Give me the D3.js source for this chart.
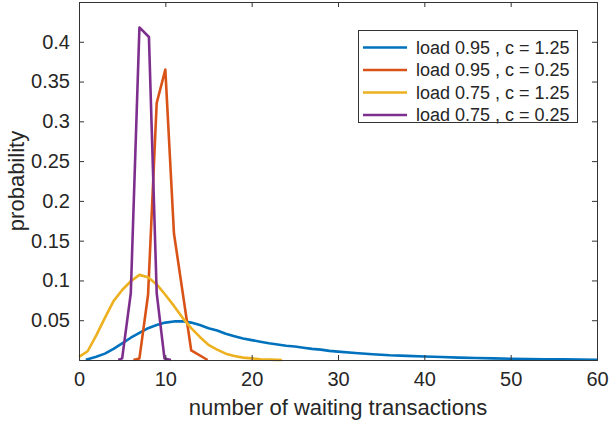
<!DOCTYPE html>
<html>
<head>
<meta charset="utf-8">
<script src="https://cdn.jsdelivr.net/npm/d3@7"></script>
<style>
  body { margin: 0; background: #fff; }
  svg { display: block; font-family: "Liberation Sans", Arial, sans-serif; }
</style>
</head>
<body>
<svg id="chart" width="609" height="427"></svg>
<script>
// series (x = number of waiting transactions, y = probability)
const blueX = [0.8, 1, 2, 3, 4, 5, 6, 7, 8, 9, 10, 11, 12, 13, 14, 15, 16, 17, 18, 19, 20,
  21, 22, 23, 24, 25, 26, 27, 28, 29, 30, 32, 34, 36, 38, 40, 42, 44, 46, 48, 50, 52, 54, 56, 58, 60];
const blueY = [0, 0.001, 0.004, 0.008, 0.014, 0.021, 0.028, 0.034, 0.040, 0.044, 0.047, 0.0485, 0.0488,
  0.047, 0.044, 0.040, 0.037, 0.033, 0.030, 0.027, 0.025, 0.023, 0.021, 0.0195, 0.018, 0.017, 0.0155,
  0.014, 0.013, 0.0115, 0.0105, 0.0088, 0.0073, 0.006, 0.0052, 0.0044, 0.0037, 0.003, 0.0025, 0.002,
  0.0016, 0.0013, 0.001, 0.0008, 0.0005, 0.0003];

const orangeX = [6.3, 7, 8, 9, 10, 11, 13, 14.9];
const orangeY = [0, 0.002, 0.082, 0.323, 0.365, 0.159, 0.012, 0];

const yellowX = [0, 1, 2, 3, 4, 5, 6, 7, 8, 9, 10, 11, 12, 13, 14, 15, 16, 17, 18, 19, 20, 21, 22, 23, 23.5];
const yellowY = [0.004, 0.011, 0.031, 0.053, 0.074, 0.088, 0.099, 0.107, 0.104, 0.095, 0.082, 0.068,
  0.053, 0.040, 0.029, 0.019, 0.013, 0.008, 0.005, 0.003, 0.002, 0.001, 0.0005, 0.0002, 0];

const purpleX = [4.55, 5, 6, 7, 8.1, 9, 9.9, 10.65];
const purpleY = [0, 0.002, 0.084, 0.418, 0.406, 0.084, 0.002, 0];

const seriesNames = ["load 0.95 , c = 1.25", "load 0.95 , c = 0.25", "load 0.75 , c = 1.25", "load 0.75 , c = 0.25"];
const seriesColors = ["#0072BD", "#D95319", "#EDB120", "#7E2F8E"];
const xTicks = [0, 10, 20, 30, 40, 50, 60];
const yTicks = [0.05, 0.1, 0.15, 0.2, 0.25, 0.3, 0.35, 0.4];

const series = [
  { xs: blueX, ys: blueY },
  { xs: orangeX, ys: orangeY },
  { xs: yellowX, ys: yellowY },
  { xs: purpleX, ys: purpleY }
].map((s, i) => ({ name: seriesNames[i], color: seriesColors[i], pts: s.xs.map((x, j) => [x, s.ys[j]]) }));

const svg = d3.select("#chart");
const plotL = 79, plotR = 597, plotT = 2, plotB = 360;
const axisColor = "#333", textColor = "#262626";
const lw = 2.6;

const x = d3.scaleLinear().domain([0, 60]).range([plotL, plotR]);
const y = d3.scaleLinear().domain([0, 0.45]).range([plotB, plotT]);

// lines
const line = d3.line().x(d => x(d[0])).y(d => y(d[1]));
svg.append("g").selectAll("path")
  .data(series)
  .join("path")
  .attr("d", d => line(d.pts))
  .attr("fill", "none")
  .attr("stroke", d => d.color)
  .attr("stroke-width", lw)
  .attr("stroke-linejoin", "round");

// axes (MATLAB-like box, ticks inside)
const tl = 5;
const gx = svg.append("g").attr("transform", `translate(0,${plotB})`)
  .call(d3.axisBottom(x).tickValues(xTicks).tickSize(-tl).tickPadding(12).tickFormat(d3.format("d")));
const gy = svg.append("g").attr("transform", `translate(${plotL},0)`)
  .call(d3.axisLeft(y).tickValues(yTicks).tickSize(-tl).tickPadding(9).tickFormat(d => String(d)));
const gt = svg.append("g").attr("transform", `translate(0,${plotT})`)
  .call(d3.axisTop(x).tickValues(xTicks).tickSize(-tl).tickFormat(""));
const gr = svg.append("g").attr("transform", `translate(${plotR},0)`)
  .call(d3.axisRight(y).tickValues(yTicks).tickSize(-tl).tickFormat(""));

[gx, gy, gt, gr].forEach(g => {
  g.select(".domain").attr("stroke", axisColor).attr("stroke-width", 1);
  g.selectAll(".tick line").attr("stroke", axisColor);
  g.selectAll(".tick text").attr("fill", textColor).style("font-size", "20px")
    .style("font-family", "'Liberation Sans', Arial, sans-serif");
});
gx.selectAll(".tick text").attr("dy", "0.71em");

// axis labels
svg.append("text")
  .attr("x", (plotL + plotR) / 2).attr("y", 415)
  .attr("text-anchor", "middle").attr("fill", textColor)
  .style("font-size", "22px")
  .text("number of waiting transactions");
svg.append("text")
  .attr("transform", `translate(24,${(plotT + plotB) / 2}) rotate(-90)`)
  .attr("text-anchor", "middle").attr("fill", textColor)
  .style("font-size", "22px")
  .text("probability");

// legend
const lg = svg.append("g");
lg.append("rect").attr("x", 358.5).attr("y", 30.5).attr("width", 219).attr("height", 92)
  .attr("fill", "#fff").attr("stroke", axisColor).attr("stroke-width", 1);
const rowY = d3.scalePoint().domain(seriesNames).range([47.5, 115]);
const rows = lg.selectAll("g.row").data(series).join("g").attr("class", "row")
  .attr("transform", d => `translate(0,${rowY(d.name)})`);
rows.append("line").attr("x1", 363).attr("x2", 407).attr("y1", 0).attr("y2", 0)
  .attr("stroke", d => d.color).attr("stroke-width", lw);
rows.append("text").attr("x", 416).attr("y", 0).attr("dy", "0.35em")
  .attr("fill", textColor).style("font-size", "18px")
  .text(d => d.name);
</script>
</body>
</html>
